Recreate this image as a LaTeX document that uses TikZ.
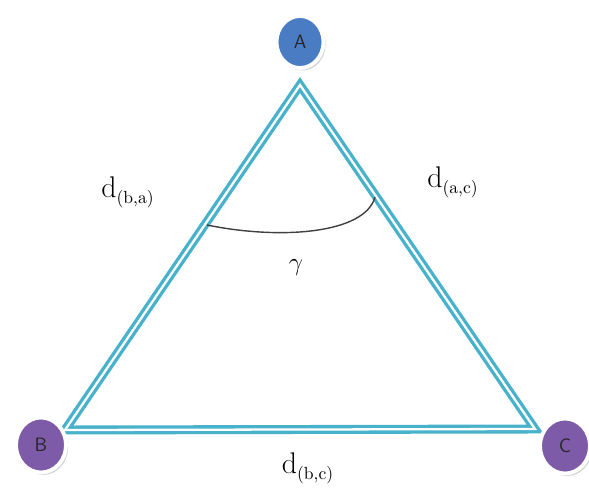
\documentclass[tikz,border=0pt]{standalone}
\usepackage{amsmath}
\usepackage{xcolor}
\usepackage{tikz}
\usetikzlibrary{positioning,calc,shapes.geometric,shadows}
\definecolor{edgeteal}{HTML}{48B2CB}
\definecolor{nodeblue}{HTML}{4A7CC3}
\definecolor{nodepurple}{HTML}{7D5BA8}
\tikzstyle{vert}= [ellipse, draw=white, line width=2.2pt, inner sep=0pt, minimum width=0.94cm, minimum height=1.04cm, font=\sffamily\fontsize{11}{11}\selectfont, text=black!85, drop shadow={shadow xshift=1.2pt, shadow yshift=-1.4pt, opacity=0.4, fill=black!45}]
\tikzstyle{side}= [draw=edgeteal, line width=1.9pt, double=white, double distance=1.3pt, line join=miter]
\tikzstyle{dist}= [font=\fontsize{17}{17}\selectfont]
\newcommand{\dlab}[1]{d\raisebox{-0.45ex}{\fontsize{10}{10}\selectfont(#1)}}

\begin{document}
\begin{tikzpicture}
				\useasboundingbox (0, 0) rectangle (11.78, 9.78);
				\coordinate (a) at (6.0, 8.08);
				\coordinate (b) at (1.3, 1.18);
				\coordinate (c) at (10.7, 1.2);
				\draw[side] (a) -- (b) -- (c) -- cycle;
				\coordinate (g1) at (4.14, 5.28);
				\coordinate (g2) at (7.5, 5.84);
				\draw[black!75, line width=0.8pt] (g1) .. controls (5.6, 4.98) and (7.3, 5.1) .. (g2);
				\node (gamma) at (5.92, 4.42) {\Large$\gamma$};
				\node[vert, fill=nodeblue] (A) at (6.0, 8.94) {A};
				\node[vert, fill=nodepurple, minimum width=1.0cm, minimum height=1.1cm] (B) at (0.82, 0.88) {B};
				\node[vert, fill=nodepurple, minimum width=1.0cm, minimum height=1.1cm] (C) at (11.3, 0.86) {C};
				\node[dist] (dba) at (2.55, 5.94) {\dlab{b,a}};
				\node[dist] (dac) at (9.05, 6.14) {\dlab{a,c}};
				\node[dist] (dbc) at (6.15, 0.42) {\dlab{b,c}};
			\end{tikzpicture}
\end{document}
